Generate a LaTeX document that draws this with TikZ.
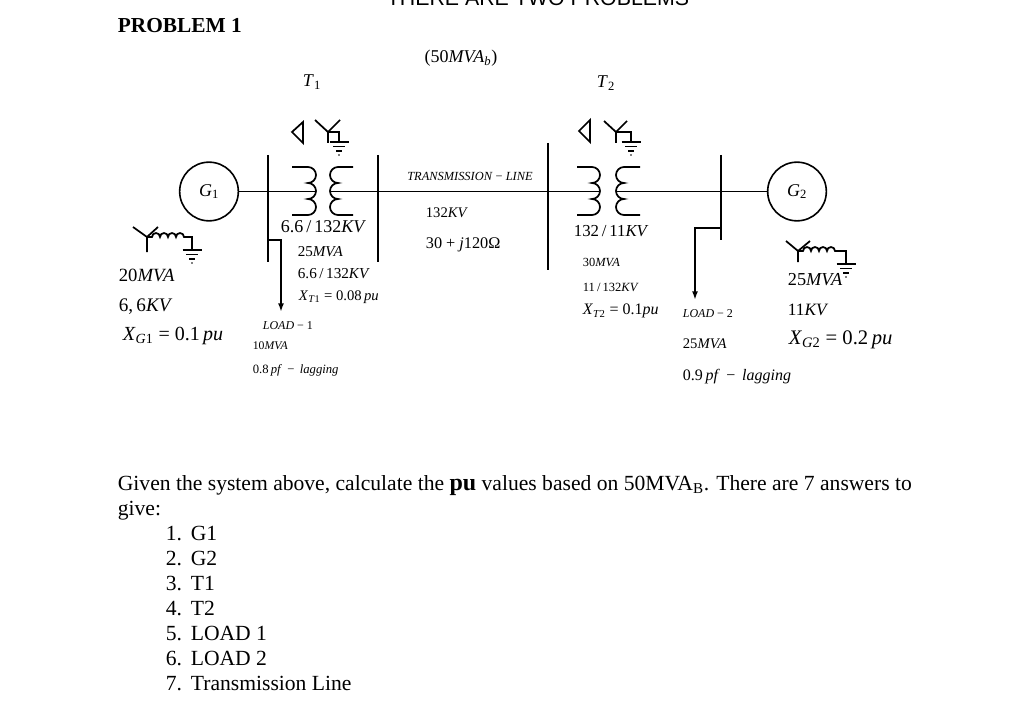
\documentclass[tikz,border=0pt]{standalone}
\usepackage{fontspec}
\setmainfont{Liberation Serif}
\newfontfamily\headfont{Liberation Sans}
\usepackage{tikz}
\usetikzlibrary{arrows,arrows.meta}
\usetikzlibrary{shapes,positioning,calc}
\newcommand{\lsub}[1]{\textsubscript{#1}}
\tikzset{earth/.pic={
		\draw[line width=0.9pt] (-9.5,0) -- (9.5,0) (-6,4.5) -- (6,4.5) (-3,9) -- (3,9);
		\fill (0,13) circle (0.9);}}

\begin{document}
\begin{tikzpicture}[>={Latex[length=6.5pt,width=4.5pt]}, x=0.75pt, y=-0.75pt, line width=1.3pt,
		gen/.style={draw, circle, minimum size=44pt, inner sep=0pt, line width=1.2pt, font=\fontsize{13.5}{14}\selectfont},
		lbl/.style={inner sep=0pt, anchor=west, font=\fontsize{#1}{#1}\selectfont},
		item/.style={inner sep=0pt, anchor=base west, font=\fontsize{16.2}{18.75}\selectfont}]
			\useasboundingbox (0,0) rectangle (1024,706);
			% headings
			\node[anchor=base, inner sep=0pt, font=\headfont\fontsize{16}{16}\selectfont] (head) at (538,6) {THERE ARE TWO PROBLEMS};
			\node[anchor=base west, inner sep=0pt, font=\bfseries\fontsize{16}{16}\selectfont] (prob) at (117,33) {PROBLEM 1};
			\node[lbl=13.5, anchor=center] (mvab) at (461,58) {(50\textit{MVA}\lsub{\textit{b}})};
			\node[lbl=13.5, anchor=center] (T1) at (312,82) {\textit{T}\lsub{1}};
			\node[lbl=13.5, anchor=center] (T2) at (606,83) {\textit{T}\lsub{2}};
			% generators
			\node[gen] (G1) at (209,191.5) {\textit{G}\lsub{1}};
			\node[gen] (G2) at (797,191.5) {\textit{G}\lsub{2}};
			% bus bars
			\draw (268,155) -- (268,262);
			\draw (378,155) -- (378,262);
			\draw (548,143) -- (548,270);
			\draw (721,155) -- (721,240);
			% main line
			\coordinate (t1a) at (316,191.5);
			\coordinate (t1b) at (330,191.5);
			\coordinate (t2a) at (600,191.5);
			\coordinate (t2b) at (616,191.5);
			\draw (G1) -- (t1a);
			\draw (t1b) -- (t2a);
			\draw (t2b) -- (G2);
			% T1 windings
			\draw (292,167) -- (308,167) arc[start angle=-90, end angle=90, radius=8] arc[start angle=-90, end angle=90, radius=8] arc[start angle=-90, end angle=90, radius=8] -- (292,215);
			\draw (353,167) -- (338,167) arc[start angle=-90, end angle=-270, radius=8] arc[start angle=-90, end angle=-270, radius=8] arc[start angle=-90, end angle=-270, radius=8] -- (353,215);
			\draw (292,132) -- (303,122) -- (303,143) -- cycle;
			\draw (315,120) -- (328,132) -- (340,120) (328,132) -- (328,143) (328,132) -- (339,132) -- (339,142);
			\pic at (339,142) {earth};
			% T2 windings
			\draw (577,167) -- (592,167) arc[start angle=-90, end angle=90, radius=8] arc[start angle=-90, end angle=90, radius=8] arc[start angle=-90, end angle=90, radius=8] -- (577,215);
			\draw (640,167) -- (624,167) arc[start angle=-90, end angle=-270, radius=8] arc[start angle=-90, end angle=-270, radius=8] arc[start angle=-90, end angle=-270, radius=8] -- (640,215);
			\draw (579,131) -- (590,120) -- (590,142) -- cycle;
			\draw (604,121) -- (616,132) -- (627,121) (616,132) -- (616,143) (616,132) -- (631,132) -- (631,142);
			\pic at (631,142) {earth};
			% generator neutrals
			\draw (133,227) -- (147,237) -- (158,227) (147,237) -- (147,252);
			\draw (147,237) -- (152,237) arc[start angle=180, end angle=360, radius=4] arc[start angle=180, end angle=360, radius=4] arc[start angle=180, end angle=360, radius=4] arc[start angle=180, end angle=360, radius=4] -- (192,237) -- (192,250);
			\pic at (192,250) {earth};
			\draw (786,241) -- (798,251) -- (810,241) (798,251) -- (798,262);
			\draw (798,251) -- (803,251) arc[start angle=180, end angle=360, radius=4] arc[start angle=180, end angle=360, radius=4] arc[start angle=180, end angle=360, radius=4] arc[start angle=180, end angle=360, radius=4] -- (846,251) -- (846,264);
			\pic at (846,264) {earth};
			% loads
			\coordinate (ld1) at (281,312);
			\coordinate (ld2) at (695,300);
			\draw[->] (268,240) -- (281,240) -- (ld1);
			\draw[->] (721,228) -- (695,228) -- (ld2);
			% G1 data
			\node[lbl=14] (g1a) at (118,275) {20\textit{MVA}};
			\node[lbl=14.4] (g1b) at (118,307) {6,\,6\textit{KV}};
			\node[lbl=15] (g1c) at (122,336) {\textit{X}\lsub{\textit{G}1} = 0.1\,\textit{pu}};
			% T1 data
			\node[lbl=13.5] (t1r) at (280,227) {6.6\,/\,132\textit{KV}};
			\node[lbl=11.3] (t1s) at (297,252) {25\textit{MVA}};
			\node[lbl=11.4] (t1v) at (297,274) {6.6\,/\,132\textit{KV}};
			\node[lbl=11] (t1x) at (298,297) {\textit{X}\lsub{\textit{T}1} = 0.08\,\textit{pu}};
			% load 1 data
			\node[lbl=9] (l1a) at (262,326) {\textit{LOAD} − 1};
			\node[lbl=8.8] (l1b) at (252,346) {10\textit{MVA}};
			\node[lbl=9.5] (l1c) at (252,370) {0.8\,\textit{pf} \,−\, \textit{lagging}};
			% line data
			\node[lbl=9.3, anchor=center] (tl) at (470,176) {\textit{TRANSMISSION} − \textit{LINE}};
			\node[lbl=11] (tlv) at (425,213) {132\textit{KV}};
			\node[lbl=12.2] (tlz) at (425,245) {30 + \textit{j}120Ω};
			% T2 data
			\node[lbl=12.6] (t2r) at (573,231) {132\,/\,11\textit{KV}};
			\node[lbl=9.3] (t2s) at (582,262) {30\textit{MVA}};
			\node[lbl=9.4] (t2v) at (582,287) {11\,/\,132\textit{KV}};
			\node[lbl=12] (t2x) at (582,311) {\textit{X}\lsub{\textit{T}2} = 0.1\textit{pu}};
			% load 2 data
			\node[lbl=9] (l2a) at (682,314) {\textit{LOAD} − 2};
			\node[lbl=11] (l2b) at (682,344) {25\textit{MVA}};
			\node[lbl=12] (l2c) at (682,377) {0.9\,\textit{pf} \,−\, \textit{lagging}};
			% G2 data
			\node[lbl=13.7] (g2a) at (787,280) {25\textit{MVA}};
			\node[lbl=13] (g2b) at (787,310) {11\textit{KV}};
			\node[lbl=15.5] (g2c) at (788,340) {\textit{X}\lsub{\textit{G}2} = 0.2\,\textit{pu}};
			% question
			\node[item] (q1) at (117,490) {Given the system above, calculate the \textbf{\fontsize{18}{18}\selectfont pu} values based on 50MVA\lsub{B}. There are 7 answers to};
			\node[item] (q2) at (117,515) {give:};
			\node[item] (a1) at (165,540) {\makebox[18.75pt][l]{1.}G1};
			\node[item] (a2) at (165,565) {\makebox[18.75pt][l]{2.}G2};
			\node[item] (a3) at (165,590) {\makebox[18.75pt][l]{3.}T1};
			\node[item] (a4) at (165,615) {\makebox[18.75pt][l]{4.}T2};
			\node[item] (a5) at (165,640) {\makebox[18.75pt][l]{5.}LOAD 1};
			\node[item] (a6) at (165,665) {\makebox[18.75pt][l]{6.}LOAD 2};
			\node[item] (a7) at (165,690) {\makebox[18.75pt][l]{7.}Transmission Line};
		\end{tikzpicture}
\end{document}
